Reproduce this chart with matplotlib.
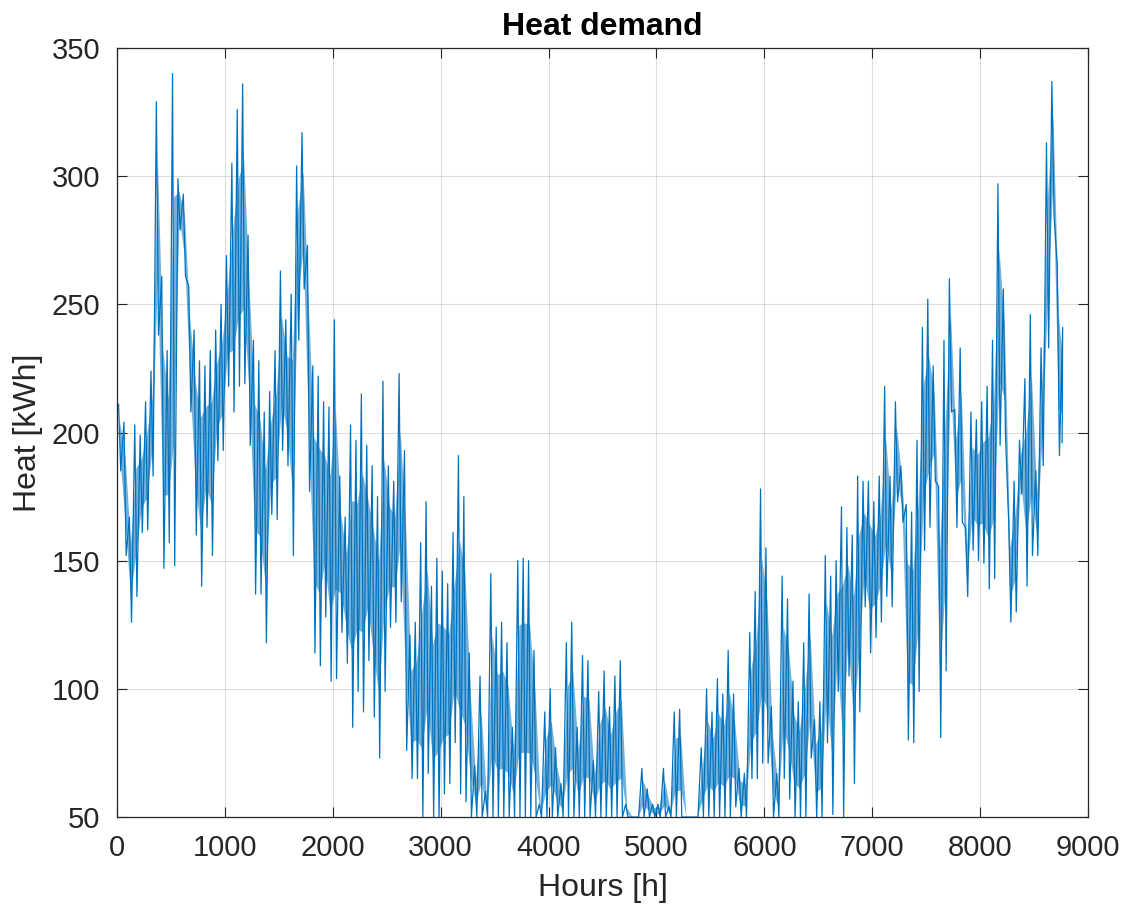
import numpy as np
import matplotlib
matplotlib.use('Agg')
import matplotlib.pyplot as plt

# envelope of the hourly heat demand, read per 50 h bin (kWh)
# values at the 50 floor are clipped by the axis limit
bin_hours = 50
heat_high = [
    211, 204, 167, 203, 199, 212, 224, 329, 261, 232,
    340, 299, 293, 257, 240, 228, 226, 232, 240, 250,
    269, 305, 326, 336, 277, 236, 228, 208, 216, 232,
    263, 244, 254, 304, 317, 273, 226, 222, 212, 210,
    244, 183, 167, 203, 197, 215, 195, 187, 175, 220,
    187, 181, 223, 193, 121, 126, 157, 173, 140, 151,
    146, 141, 161, 191, 175, 114, 70, 105, 60, 145,
    124, 126, 118, 85, 150, 151, 150, 115, 55, 91,
    100, 77, 63, 118, 126, 85, 113, 111, 72, 99,
    107, 93, 105, 111, 55, 50, 50, 69, 61, 55,
    55, 69, 54, 91, 92, 50, 50, 50, 77, 100,
    91, 104, 98, 115, 98, 69, 67, 122, 138, 178,
    155, 93, 67, 144, 135, 103, 95, 118, 137, 88,
    95, 152, 144, 150, 171, 163, 160, 183, 181, 181,
    173, 183, 218, 183, 212, 187, 172, 169, 197, 241,
    252, 226, 179, 236, 260, 209, 233, 163, 208, 205,
    212, 218, 236, 297, 256, 165, 181, 197, 221, 246,
    185, 233, 313, 337, 265, 241,
]
heat_low = [
    185, 152, 126, 136, 161, 162, 183, 238, 147, 157,
    148, 279, 261, 208, 160, 140, 163, 152, 189, 193,
    218, 208, 218, 219, 195, 137, 137, 118, 168, 166,
    193, 187, 152, 236, 256, 177, 114, 109, 128, 103,
    104, 122, 110, 85, 99, 91, 111, 89, 73, 99,
    124, 126, 134, 76, 65, 65, 50, 67, 50, 50,
    59, 63, 79, 59, 56, 50, 50, 50, 50, 50,
    50, 50, 50, 50, 50, 50, 50, 50, 50, 50,
    50, 50, 50, 50, 50, 50, 50, 50, 50, 50,
    50, 50, 50, 50, 50, 50, 50, 50, 50, 50,
    50, 50, 50, 50, 50, 50, 50, 50, 50, 50,
    50, 50, 50, 50, 54, 50, 50, 65, 65, 71,
    71, 50, 50, 65, 57, 50, 50, 50, 73, 50,
    50, 79, 51, 99, 50, 105, 63, 91, 132, 114,
    120, 126, 136, 132, 173, 165, 80, 79, 99, 154,
    163, 181, 81, 107, 208, 163, 165, 136, 154, 150,
    149, 139, 143, 195, 199, 126, 130, 176, 140, 152,
    152, 187, 233, 285, 191, 196,
]

n_bins = len(heat_high)
starts = np.arange(n_bins) * bin_hours
hours = np.empty(2 * n_bins)
heat = np.empty(2 * n_bins)
hours[0::2] = starts + 15
hours[1::2] = np.minimum(starts + 35, 8760)
heat[0::2] = heat_high
heat[1::2] = heat_low

plt.rcParams['font.family'] = ['Liberation Sans', 'DejaVu Sans']
col = '#0072BD'

fig = plt.figure(figsize=(11.29, 9.14), dpi=100)
ax = fig.add_axes([0.1036, 0.1061, 0.8601, 0.8414])

# dense hourly trace: shade the band each bin covers, then the zigzag through it
mid = np.minimum(starts + 25, 8760)
lo_band = np.array(heat_low) + 0.25 * (np.array(heat_high) - np.array(heat_low))
hi_band = np.array(heat_high) - 0.25 * (np.array(heat_high) - np.array(heat_low))
ax.fill_between(mid, lo_band, hi_band, color=col, alpha=0.55, lw=0)
ax.plot(hours, heat, color=col, lw=0.9)

ax.set_xlim(0, 9000)
ax.set_ylim(50, 350)
ax.set_xticks(np.arange(0, 9001, 1000))
ax.set_yticks(np.arange(50, 351, 50))
ax.grid(True, color='#262626', alpha=0.15, lw=0.8)
ax.set_axisbelow(True)
ax.tick_params(direction='in', length=7, width=0.8, colors='#262626',
               labelsize=21, top=True, right=True, pad=12)
for s in ax.spines.values():
    s.set_color('#262626')
    s.set_linewidth(0.9)

ax.set_xlabel('Hours [h]', fontsize=23, color='#262626', labelpad=8)
ax.set_ylabel('Heat [kWh]', fontsize=23, color='#262626', labelpad=6)
ax.set_title('Heat demand', fontsize=23, fontweight='bold', pad=9)

fig.savefig('out.png', dpi=100)
